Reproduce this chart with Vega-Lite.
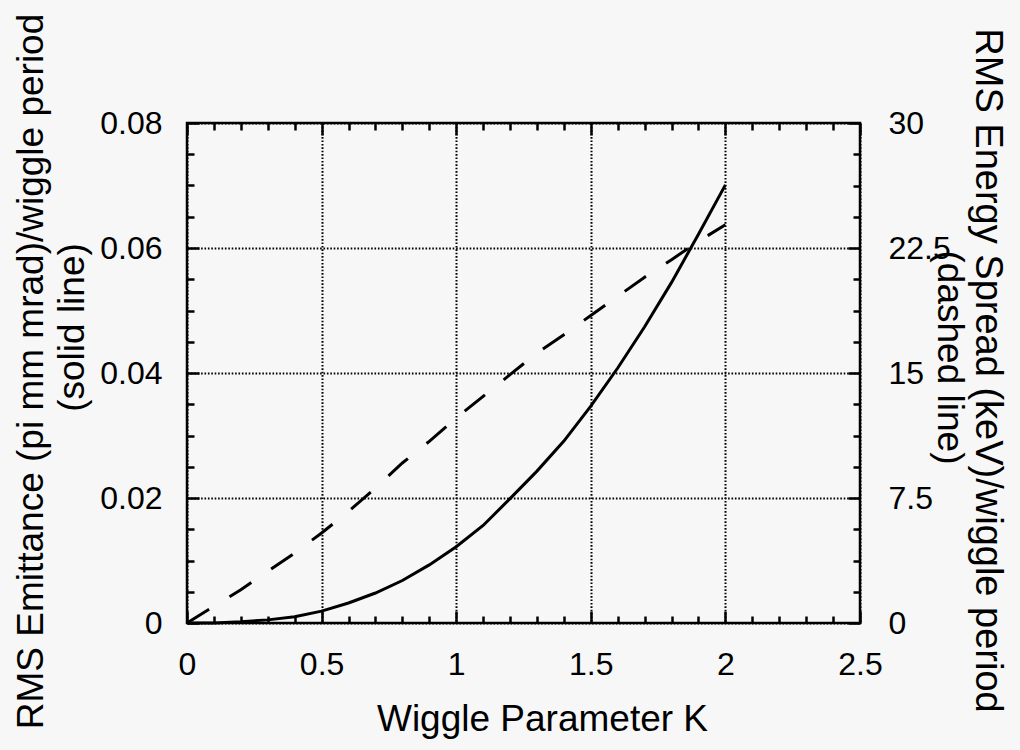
{
  "$schema": "https://vega.github.io/schema/vega-lite/v6.json",
  "width": 673,
  "height": 500,
  "autosize": "none",
  "padding": {"left": 187, "top": 123, "right": 160, "bottom": 127},
  "background": "#f7f7f7",
  "config": {
    "view": {"stroke": "black", "strokeWidth": 2.5},
    "font": "Liberation Sans",
    "axis": {
      "labelFont": "Liberation Sans",
      "titleFont": "Liberation Sans",
      "labelFontSize": 32,
      "titleFontSize": 37,
      "titleFontWeight": "normal",
      "labelColor": "black",
      "titleColor": "black",
      "tickColor": "black",
      "tickWidth": 2.5,
      "domain": false,
      "labelFlush": false,
      "labelOverlap": false,
      "gridColor": "black",
      "gridOpacity": 1,
      "gridWidth": 2,
      "gridDash": [1.6, 1.8]
    }
  },
  "data": {
    "values": [
      {"K": 0.0, "emittance": 0.0, "spread": 0.0},
      {"K": 0.1, "emittance": 0.0, "spread": 1.0},
      {"K": 0.2, "emittance": 0.0002, "spread": 2.0},
      {"K": 0.3, "emittance": 0.0005, "spread": 3.1},
      {"K": 0.4, "emittance": 0.001, "spread": 4.2},
      {"K": 0.5, "emittance": 0.0019, "spread": 5.4},
      {"K": 0.6, "emittance": 0.0032, "spread": 6.7},
      {"K": 0.7, "emittance": 0.0048, "spread": 8.1},
      {"K": 0.8, "emittance": 0.0068, "spread": 9.6},
      {"K": 0.9, "emittance": 0.0093, "spread": 10.9},
      {"K": 1.0, "emittance": 0.0122, "spread": 12.3},
      {"K": 1.1, "emittance": 0.0156, "spread": 13.6},
      {"K": 1.2, "emittance": 0.0199, "spread": 14.9},
      {"K": 1.3, "emittance": 0.0243, "spread": 16.2},
      {"K": 1.4, "emittance": 0.0291, "spread": 17.3},
      {"K": 1.5, "emittance": 0.0347, "spread": 18.45},
      {"K": 1.6, "emittance": 0.0408, "spread": 19.6},
      {"K": 1.7, "emittance": 0.0474, "spread": 20.75},
      {"K": 1.8, "emittance": 0.0545, "spread": 21.8},
      {"K": 1.9, "emittance": 0.0622, "spread": 22.9},
      {"K": 2.0, "emittance": 0.0701, "spread": 23.9}
    ]
  },
  "layer": [
    {
      "mark": {"type": "line", "color": "black", "strokeWidth": 3},
      "encoding": {
        "x": {
          "field": "K", "type": "quantitative",
          "scale": {"domain": [0, 2.5], "nice": false, "zero": false},
          "axis": {
            "orient": "bottom",
            "values": [0, 0.5, 1, 1.5, 2, 2.5],
            "format": ".4~g",
            "tickSize": -12,
            "labelPadding": 38,
            "grid": true,
            "title": "Wiggle Parameter K",
            "titleX": 355,
            "titleY": 107,
            "titleAlign": "center",
            "titleBaseline": "alphabetic",
            "titleAngle": 0
          }
        },
        "y": {
          "field": "emittance", "type": "quantitative",
          "scale": {"domain": [0, 0.08], "nice": false},
          "axis": {
            "orient": "left",
            "values": [0, 0.02, 0.04, 0.06, 0.08],
            "format": ".4~g",
            "tickSize": -12,
            "labelPadding": 37,
            "grid": true,
            "title": "RMS Emittance (pi mm mrad)/wiggle period",
            "titleX": -145,
            "titleY": 248,
            "titleAngle": 270,
            "titleAlign": "center",
            "titleBaseline": "alphabetic"
          }
        }
      }
    },
    {
      "mark": {"type": "line", "color": "black", "strokeWidth": 3, "strokeDash": [26, 24]},
      "encoding": {
        "x": {
          "field": "K", "type": "quantitative",
          "scale": {"domain": [0, 2.5], "nice": false, "zero": false},
          "axis": {
            "orient": "top",
            "values": [0, 0.5, 1, 1.5, 2, 2.5],
            "tickSize": -12,
            "labels": false,
            "grid": false,
            "title": null
          }
        },
        "y": {
          "field": "spread", "type": "quantitative",
          "scale": {"domain": [0, 30], "nice": false},
          "axis": {
            "orient": "right",
            "values": [0, 7.5, 15, 22.5, 30],
            "format": ".4~g",
            "tickSize": -12,
            "labelPadding": 40,
            "grid": false,
            "title": "RMS Energy Spread (keV)/wiggle period",
            "titleFontSize": 38,
            "titleX": 115,
            "titleY": 247,
            "titleAngle": 90,
            "titleAlign": "center",
            "titleBaseline": "alphabetic"
          }
        }
      }
    },
    {
      "mark": {"type": "line", "color": "black", "strokeOpacity": 0},
      "encoding": {
        "x": {
          "field": "K", "type": "quantitative",
          "scale": {"domain": [0, 2.5], "nice": false, "zero": false},
          "axis": {
            "orient": "bottom",
            "values": [0.1, 0.2, 0.3, 0.4, 0.6, 0.7, 0.8, 0.9, 1.1, 1.2, 1.3, 1.4, 1.6, 1.7, 1.8, 1.9, 2.1, 2.2, 2.3, 2.4],
            "tickSize": -7,
            "labels": false,
            "grid": false,
            "title": null
          }
        },
        "y": {
          "field": "emittance", "type": "quantitative",
          "scale": {"domain": [0, 0.08], "nice": false},
          "axis": {
            "orient": "left",
            "values": [0.005, 0.01, 0.015, 0.025, 0.03, 0.035, 0.045, 0.05, 0.055, 0.065, 0.07, 0.075],
            "tickSize": -7,
            "labels": false,
            "grid": false,
            "title": "(solid line)",
            "titleX": -104,
            "titleY": 204,
            "titleAngle": 270,
            "titleAlign": "center",
            "titleBaseline": "alphabetic"
          }
        }
      }
    },
    {
      "mark": {"type": "line", "color": "black", "strokeOpacity": 0},
      "encoding": {
        "x": {
          "field": "K", "type": "quantitative",
          "scale": {"domain": [0, 2.5], "nice": false, "zero": false},
          "axis": {
            "orient": "top",
            "values": [0.1, 0.2, 0.3, 0.4, 0.6, 0.7, 0.8, 0.9, 1.1, 1.2, 1.3, 1.4, 1.6, 1.7, 1.8, 1.9, 2.1, 2.2, 2.3, 2.4],
            "tickSize": -7,
            "labels": false,
            "grid": false,
            "title": null
          }
        },
        "y": {
          "field": "spread", "type": "quantitative",
          "scale": {"domain": [0, 30], "nice": false},
          "axis": {
            "orient": "right",
            "values": [1.875, 3.75, 5.625, 9.375, 11.25, 13.125, 16.875, 18.75, 20.625, 24.375, 26.25, 28.125],
            "tickSize": -7,
            "labels": false,
            "grid": false,
            "title": "(dashed line)",
            "titleX": 77,
            "titleY": 234,
            "titleAngle": 90,
            "titleAlign": "center",
            "titleBaseline": "alphabetic"
          }
        }
      }
    }
  ],
  "resolve": {
    "scale": {"y": "independent"},
    "axis": {"x": "independent", "y": "independent"}
  }
}
